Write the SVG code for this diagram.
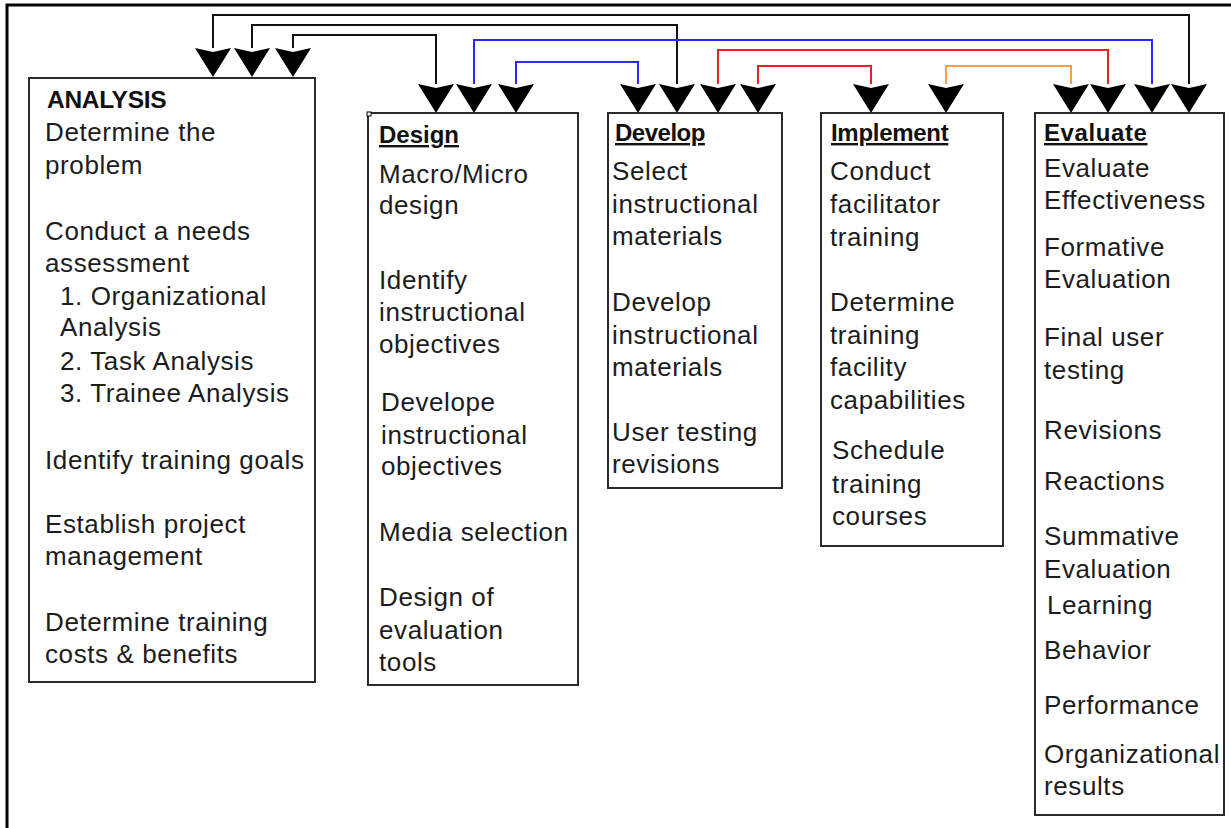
<svg xmlns="http://www.w3.org/2000/svg" xmlns:xlink="http://www.w3.org/1999/xlink" width="1231" height="828" viewBox="0 0 1231 828">
<style>
.frame{stroke:#000;stroke-width:3;fill:none}
.box{fill:#fff;stroke:#2a2a2a;stroke-width:2}
.t{font-family:"Liberation Sans",Arial,sans-serif;font-size:26px;fill:#1c1c1c;letter-spacing:0.6px}
.h{font-family:"Liberation Sans",Arial,sans-serif;font-weight:bold;font-size:24px;fill:#111}
.u{text-decoration:underline}
.c{fill:none;stroke-width:2}
.k{stroke:#111}
.b{stroke:#2a2aff}
.r{stroke:#e02424}
.o{stroke:#ffa040}
.ah{fill:#000}
</style>
<defs>
<path id="arr" d="M-18,0 L0,4 L18,0 L0,29 Z"/>
</defs>
<rect width="1231" height="828" fill="#fff"/>
<path class="frame" d="M7,828 V5 H1231"/>

<g id="connectors">
<path class="c k" d="M213,48 V15 H1189 V84"/>
<path class="c k" d="M252,48 V25 H677 V84"/>
<path class="c k" d="M293,48 V35 H436 V84"/>
<path class="c b" d="M474,84 V40 H1152 V84"/>
<path class="c r" d="M718,84 V50 H1108 V84"/>
<path class="c b" d="M516,84 V62 H638 V84"/>
<path class="c r" d="M758,84 V66 H871 V84"/>
<path class="c o" d="M946,84 V66 H1071 V84"/>
<g class="ah">
<use xlink:href="#arr" x="213" y="48"/>
<use xlink:href="#arr" x="252" y="48"/>
<use xlink:href="#arr" x="293" y="48"/>
<use xlink:href="#arr" x="436" y="84"/>
<use xlink:href="#arr" x="474" y="84"/>
<use xlink:href="#arr" x="516" y="84"/>
<use xlink:href="#arr" x="638" y="84"/>
<use xlink:href="#arr" x="677" y="84"/>
<use xlink:href="#arr" x="718" y="84"/>
<use xlink:href="#arr" x="758" y="84"/>
<use xlink:href="#arr" x="871" y="84"/>
<use xlink:href="#arr" x="946" y="84"/>
<use xlink:href="#arr" x="1071" y="84"/>
<use xlink:href="#arr" x="1108" y="84"/>
<use xlink:href="#arr" x="1152" y="84"/>
<use xlink:href="#arr" x="1189" y="84"/>
</g>
</g>

<g id="analysis">
<rect class="box" x="29" y="78" width="286" height="604"/>
<text class="h" x="47" y="108" style="font-size:24.5px;letter-spacing:-0.3px">ANALYSIS</text>
<text class="t" x="45" y="141">Determine the</text>
<text class="t" x="45" y="174">problem</text>
<text class="t" x="45" y="240">Conduct a needs</text>
<text class="t" x="45" y="272">assessment</text>
<text class="t" x="60" y="305">1. Organizational</text>
<text class="t" x="60" y="336">Analysis</text>
<text class="t" x="60" y="370">2. Task Analysis</text>
<text class="t" x="60" y="402">3. Trainee Analysis</text>
<text class="t" x="45" y="469">Identify training goals</text>
<text class="t" x="45" y="533">Establish project</text>
<text class="t" x="45" y="565">management</text>
<text class="t" x="45" y="631">Determine training</text>
<text class="t" x="45" y="663">costs &amp; benefits</text>
</g>

<g id="design">
<rect class="box" x="368" y="113" width="210" height="572"/>
<rect x="367" y="112" width="4" height="4" fill="#fff" stroke="#000" stroke-width="1"/>
<text class="h u" x="379" y="143">Design</text>
<text class="t" x="379" y="183">Macro/Micro</text>
<text class="t" x="379" y="214">design</text>
<text class="t" x="379" y="289">Identify</text>
<text class="t" x="379" y="321">instructional</text>
<text class="t" x="379" y="353">objectives</text>
<text class="t" x="381" y="411">Develope</text>
<text class="t" x="381" y="444">instructional</text>
<text class="t" x="381" y="475">objectives</text>
<text class="t" x="379" y="541">Media selection</text>
<text class="t" x="379" y="606">Design of</text>
<text class="t" x="379" y="639">evaluation</text>
<text class="t" x="379" y="671">tools</text>
</g>

<g id="develop">
<rect class="box" x="608" y="113" width="174" height="375"/>
<text class="h u" x="615" y="141" style="letter-spacing:-0.5px">Develop</text>
<text class="t" x="612" y="180">Select</text>
<text class="t" x="612" y="213">instructional</text>
<text class="t" x="612" y="245">materials</text>
<text class="t" x="612" y="311">Develop</text>
<text class="t" x="612" y="344">instructional</text>
<text class="t" x="612" y="376">materials</text>
<text class="t" x="612" y="441">User testing</text>
<text class="t" x="612" y="473">revisions</text>
</g>

<g id="implement">
<rect class="box" x="821" y="113" width="182" height="433"/>
<text class="h u" x="831" y="141" style="letter-spacing:-0.3px">Implement</text>
<text class="t" x="830" y="180">Conduct</text>
<text class="t" x="830" y="213">facilitator</text>
<text class="t" x="830" y="246">training</text>
<text class="t" x="830" y="311">Determine</text>
<text class="t" x="830" y="344">training</text>
<text class="t" x="830" y="376">facility</text>
<text class="t" x="830" y="409">capabilities</text>
<text class="t" x="832" y="459">Schedule</text>
<text class="t" x="832" y="493">training</text>
<text class="t" x="832" y="525">courses</text>
</g>

<g id="evaluate">
<rect class="box" x="1035" y="113" width="189" height="702"/>
<text class="h u" x="1044" y="141" style="letter-spacing:0.6px">Evaluate</text>
<text class="t" x="1044" y="177">Evaluate</text>
<text class="t" x="1044" y="209">Effectiveness</text>
<text class="t" x="1044" y="256">Formative</text>
<text class="t" x="1044" y="288">Evaluation</text>
<text class="t" x="1044" y="346">Final user</text>
<text class="t" x="1044" y="379">testing</text>
<text class="t" x="1044" y="439">Revisions</text>
<text class="t" x="1044" y="490">Reactions</text>
<text class="t" x="1044" y="545">Summative</text>
<text class="t" x="1044" y="578">Evaluation</text>
<text class="t" x="1047" y="614">Learning</text>
<text class="t" x="1044" y="659">Behavior</text>
<text class="t" x="1044" y="714">Performance</text>
<text class="t" x="1044" y="763">Organizational</text>
<text class="t" x="1044" y="795">results</text>
</g>
</svg>
